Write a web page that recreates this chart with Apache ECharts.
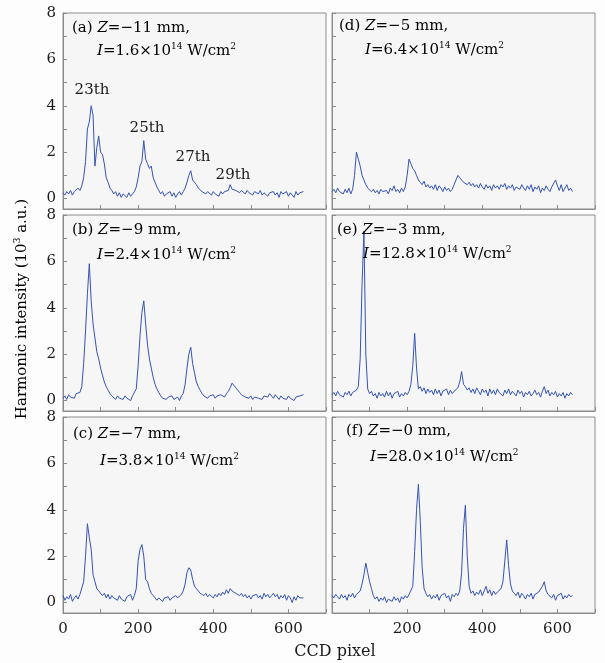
<!DOCTYPE html>
<html><head><meta charset="utf-8">
<script src="https://cdn.jsdelivr.net/npm/echarts@6/dist/echarts.min.js"></script>
<style>html,body{margin:0;padding:0;background:#fdfdfd}#c{width:605px;height:663px}</style>
</head><body><div id="c"></div>
<script>
// CCD pixel grid (every 5 pixels, 0..640)
const PIXELS = Array.from({length:129}, (_, i) => i * 5);

const panelA = [.25,.15,.30,.20,.35,.15,.30,.25,.45,.35,.55,.90,1.60,3.00,3.30,4.00,3.60,1.40,2.20,2.70,
2.00,1.90,1.50,.90,.70,.45,.35,.20,.30,.10,.25,.05,.20,.15,.05,.25,.10,.20,.30,.50,
.90,1.40,1.60,2.50,1.70,1.50,1.30,1.40,.90,.70,.50,.35,.20,.30,.10,.20,.15,.30,.10,.25,
.05,.20,.30,.15,.30,.45,.70,1.00,1.20,.80,.70,.60,.45,.40,.30,.35,.20,.30,.25,.15,
.30,.20,.25,.10,.30,.20,.30,.25,.35,.60,.40,.45,.35,.40,.25,.35,.30,.20,.35,.25,
.30,.15,.30,.25,.20,.35,.15,.25,.30,.10,.25,.20,.30,.15,.25,.05,.30,.20,.15,.30,
.10,.25,.20,.05,.30,.15,.25,.20,.30];

const panelB = [.10,.20,.05,.25,.15,.20,.10,.30,.25,.35,.60,1.60,3.00,4.60,5.90,4.30,3.30,2.70,2.10,1.80,
1.40,1.10,.80,.60,.45,.30,.20,.15,.05,.20,.10,.15,.05,.20,.10,.15,.00,.20,.25,.50,
1.50,2.80,3.80,4.30,3.30,2.40,1.80,1.40,1.00,.70,.50,.35,.20,.10,.15,.05,.15,.10,.20,.05,
.10,.15,.00,.20,.30,.70,1.40,2.00,2.30,1.60,1.20,.80,.60,.45,.30,.20,.25,.10,.20,.15,
.25,.10,.20,.15,.25,.20,.15,.30,.40,.55,.75,.70,.55,.45,.35,.25,.30,.15,.20,.10,
.20,.05,.15,.20,.10,.15,.05,.20,.25,.15,.30,.20,.10,.25,.15,.05,.20,.10,.15,.05,
.20,.10,.15,.00,.15,.10,.20,.15,.25];

const panelC = [.30,.10,.25,.15,.35,.05,.20,.30,.15,.35,.40,.90,2.00,3.40,2.80,2.30,1.20,.90,.60,.50,
.45,.30,.40,.20,.35,.15,.30,.20,.25,.10,.30,.15,.20,.05,.25,.20,.35,.10,.30,.60,
1.80,2.30,2.50,2.00,1.00,.90,.60,.40,.30,.20,.10,.20,.15,.05,.20,.15,.25,.10,.20,.15,
.30,.20,.25,.35,.50,.80,1.30,1.50,1.40,1.00,.70,.60,.50,.40,.45,.30,.40,.25,.35,.30,
.20,.35,.25,.40,.30,.45,.35,.55,.40,.60,.50,.55,.40,.35,.30,.40,.25,.35,.20,.30,
.15,.30,.25,.35,.20,.30,.15,.40,.25,.35,.20,.30,.40,.25,.35,.15,.30,.20,.35,.10,
.30,.20,.00,.25,.10,.30,.20,.25,.20];

const panelD = [.30,.40,.25,.45,.30,.35,.20,.40,.25,.45,.20,.40,1.00,2.00,1.70,1.40,1.00,.80,.60,.45,
.50,.30,.40,.25,.35,.20,.40,.30,.25,.35,.20,.45,.35,.55,.30,.40,.25,.45,.30,.50,
1.00,1.70,1.50,1.30,1.20,1.00,.80,.70,.60,.75,.50,.60,.45,.55,.40,.60,.35,.55,.45,.30,
.50,.35,.45,.30,.40,.60,.80,1.00,.90,.80,.70,.75,.60,.70,.55,.65,.50,.60,.45,.65,
.50,.40,.60,.45,.55,.35,.60,.45,.55,.40,.60,.50,.65,.40,.55,.45,.60,.35,.50,.55,
.40,.60,.45,.35,.55,.40,.60,.30,.50,.40,.55,.25,.45,.35,.55,.40,.30,.50,.45,.80,
.55,.35,.60,.30,.45,.60,.35,.45,.30];

const panelE = [.25,.35,.20,.40,.25,.30,.15,.35,.25,.40,.20,.35,.30,.45,.60,1.80,5.00,7.30,2.00,.50,
.30,.40,.20,.30,.10,.35,.20,.30,.15,.40,.20,.35,.10,.30,.25,.40,.15,.30,.20,.35,
.25,.40,.70,1.50,2.90,1.40,.50,.60,.40,.55,.30,.50,.35,.45,.25,.50,.30,.45,.20,.40,
.35,.50,.25,.45,.30,.40,.35,.55,.80,1.25,.70,.60,.45,.55,.35,.50,.30,.55,.40,.25,
.50,.35,.45,.20,.50,.30,.45,.25,.50,.35,.40,.20,.45,.30,.50,.25,.40,.35,.20,.45,
.30,.40,.15,.35,.25,.40,.20,.30,.45,.25,.35,.15,.40,.60,.30,.45,.20,.35,.25,.40,
.15,.30,.20,.35,.10,.30,.20,.35,.25];

const panelF = [.30,.20,.35,.25,.15,.35,.20,.30,.10,.35,.25,.40,.20,.35,.30,.50,.80,1.20,1.70,1.30,
.90,.60,.30,.15,.25,.05,.20,.10,.25,.00,.15,.20,.05,.25,.10,.20,.00,.25,.15,.30,
.20,.35,.40,.70,2.20,4.00,5.10,3.50,1.50,.60,.40,.25,.35,.15,.30,.20,.35,.10,.30,.25,
.40,.20,.30,.05,.35,.25,.40,.30,.50,1.30,3.20,4.20,2.00,.70,.40,.50,.30,.45,.35,.55,
.30,.50,.70,.40,.55,.30,.50,.35,.45,.40,.60,.90,1.80,2.70,1.60,.80,.50,.40,.30,.45,
.20,.40,.30,.15,.35,.25,.40,.15,.35,.30,.45,.50,.70,.90,.50,.35,.40,.20,.35,.10,
.30,.25,.40,.15,.30,.20,.35,.25,.30];

const PANELS = [panelA, panelB, panelC, panelD, panelE, panelF];
const Y_LABELS = [0, 2, 4, 6, 8];
const Y_TICKS = [0, 1, 2, 3, 4, 5, 6, 7, 8];
const X_TICKS = [0, 100, 200, 300, 400, 500, 600, 700];
const X_LABELS_LEFT = [0, 200, 400, 600];
const X_LABELS_RIGHT = [200, 400, 600];
const TITLES = [
  ['(a) ', '−11', '1.6'],
  ['(b) ', '−9', '2.4'],
  ['(c) ', '−7', '3.8'],
  ['(d) ', '−5', '6.4'],
  ['(e) ', '−3', '12.8'],
  ['(f) ', '−0', '28.0']
];
const ORDERS = ['23th', '25th', '27th', '29th'];

const FONT = '"DejaVu Serif", "Liberation Serif", serif';
const LINE = '#3453b4';
const AXIS = '#8c8c8c';

const tops = [13, 215, 417];
const lefts = [63, 332];
const grids = [], xAxes = [], yAxes = [], series = [];
for (let i = 0; i < 6; i++) {
  const col = i < 3 ? 0 : 1, row = i % 3;
  grids.push({left: lefts[col], top: tops[row], width: 263, height: 196,
    show: true, borderColor: AXIS, borderWidth: 1, backgroundColor: '#f6f6f7'});
  const bottomRow = row === 2;
  xAxes.push({type: 'value', gridIndex: i, min: 0, max: 700, interval: 100,
    axisLine: {show: true, onZero: false, lineStyle: {color: AXIS, width: 1}},
    axisTick: {show: true, inside: true, length: 4, customValues: X_TICKS, lineStyle: {color: AXIS}},
    splitLine: {show: false},
    axisLabel: {show: bottomRow, customValues: col === 0 ? X_LABELS_LEFT : X_LABELS_RIGHT,
      margin: 9, fontFamily: FONT, fontSize: 15, color: '#1a1a1a'}});
  yAxes.push({type: 'value', gridIndex: i, min: -0.45, max: 8,
    axisLine: {show: true, lineStyle: {color: AXIS, width: 1}},
    axisTick: {show: true, inside: true, length: 4, customValues: Y_TICKS, lineStyle: {color: AXIS}},
    splitLine: {show: false},
    axisLabel: {show: col === 0, customValues: Y_LABELS, margin: 7,
      fontFamily: FONT, fontSize: 15, color: '#1a1a1a'}});
  series.push({type: 'line', xAxisIndex: i, yAxisIndex: i, showSymbol: false, silent: true,
    lineStyle: {color: LINE, width: 1}, animation: false,
    data: PIXELS.map((p, k) => [p, PANELS[i][k]])});
}

const rich = {
  n: {fontFamily: FONT, fontSize: 15, color: '#1a1a1a', lineHeight: 18},
  i: {fontFamily: FONT, fontSize: 15, fontStyle: 'italic', color: '#1a1a1a', lineHeight: 18},
  s: {fontFamily: FONT, fontSize: 9, color: '#1a1a1a', lineHeight: 9, verticalAlign: 'top'}
};
const titlePos = [
  [72, 30, 97, 51], [72, 232, 97, 255], [73, 436, 100, 461],
  [339, 28, 365, 50], [337, 232, 363, 254], [346, 433, 370, 457]
];
const graphics = [];
TITLES.forEach((t, i) => {
  const p = titlePos[i];
  graphics.push({type: 'text', left: p[0], top: p[1] - 9, z: 100,
    style: {text: '{n|' + t[0] + '}{i|Z}{n|=' + t[1] + ' mm,}', rich: rich}});
  graphics.push({type: 'text', left: p[2], top: p[3] - 9, z: 100,
    style: {text: '{i|I}{n|=' + t[2] + '×10}{s|14}{n| W/cm}{s|2}', rich: rich}});
});
const orderPos = [[92, 90], [147, 128], [193, 157], [233, 175]];
ORDERS.forEach((o, k) => {
  graphics.push({type: 'text', x: orderPos[k][0], y: orderPos[k][1], z: 100,
    style: {text: o, font: '15px ' + FONT, fill: '#1a1a1a', textAlign: 'center', textVerticalAlign: 'middle'}});
});
graphics.push({type: 'text', x: 22, y: 309, rotation: Math.PI / 2, z: 100,
  style: {text: '{n|Harmonic intensity (10}{s|3}{n| a.u.)}', rich: rich, align: 'center', verticalAlign: 'middle'}});
graphics.push({type: 'text', x: 335, y: 652, z: 100,
  style: {text: 'CCD pixel', font: '16px ' + FONT, fill: '#1a1a1a', textAlign: 'center', textVerticalAlign: 'middle'}});

const chart = echarts.init(document.getElementById('c'));
chart.setOption({
  animation: false,
  backgroundColor: '#fdfdfd',
  grid: grids, xAxis: xAxes, yAxis: yAxes, series: series,
  graphic: graphics
});
</script></body></html>
